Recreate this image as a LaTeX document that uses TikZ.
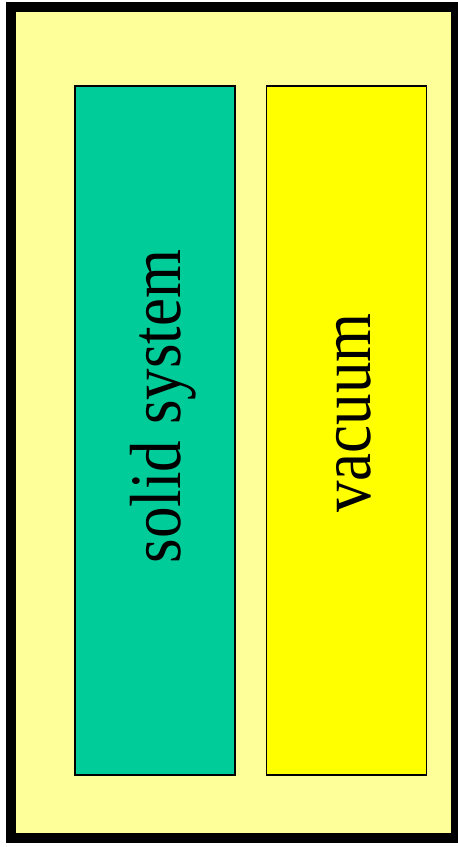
\documentclass[tikz,border=0pt]{standalone}
\usepackage{fontspec}
\setmainfont{Liberation Serif}
\usepackage{xcolor}
\definecolor{paleyellow}{RGB}{255, 255, 153}
\definecolor{solidgreen}{RGB}{0, 204, 153}
\definecolor{vacyellow}{RGB}{255, 255, 0}
\usepackage{tikz}
\usetikzlibrary{positioning}

\begin{document}
\begin{tikzpicture}[
  x=1pt, y=1pt,
  column/.style={draw=black, line width=1.5pt, minimum width=160pt, minimum height=689pt, inner sep=0pt},
  sidetext/.style={rotate=90, anchor=base, inner sep=0pt, font=\fontsize{63}{70}\selectfont},
  frame/.style={draw=black, fill=paleyellow, line width=10pt}
]
\useasboundingbox (0,0) rectangle (458,847);
\draw[frame] (10.5,9) rectangle (456,839.5);
\node[column, fill=solidgreen] (solid) at (155,416.5) {};
\node[column, fill=vacyellow] (vacuum) at (346.5,416.5) {};
\node[sidetext] (solidtext) at (180,440.5) {\scalebox{1}[1.15]{solid system}};
\node[sidetext] (vacuumtext) at (370,434) {\scalebox{1}[1.15]{vacuum}};
\end{tikzpicture}
\end{document}
